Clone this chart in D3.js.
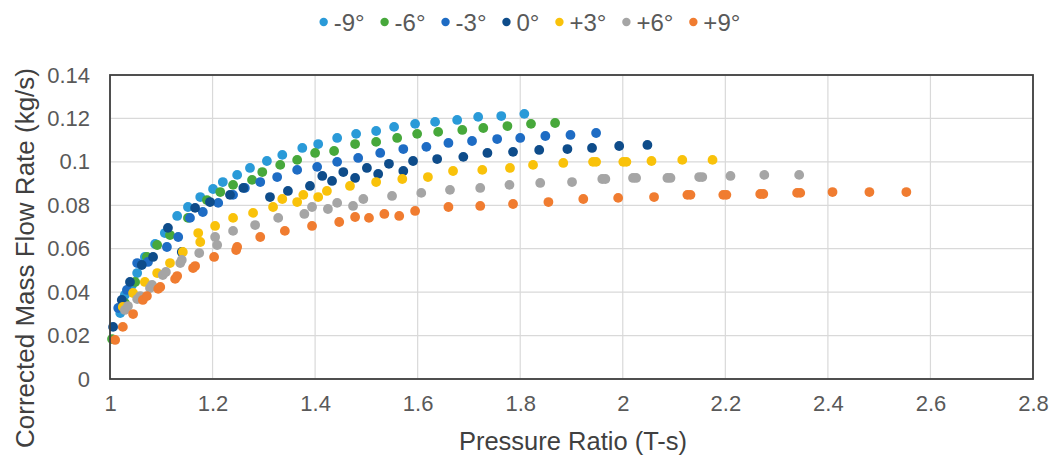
<!DOCTYPE html>
<html>
<head>
<meta charset="utf-8">
<script src="https://cdn.jsdelivr.net/npm/d3@7"></script>
<style>
  html, body { margin: 0; padding: 0; background: #fff; }
  svg { display: block; font-family: "Liberation Sans", Arial, sans-serif; }
</style>
</head>
<body>
<svg id="chart" width="1057" height="461"></svg>
<script>
// Inlet guide vane angle series: pressure ratio (T-s) vs corrected mass flow rate (kg/s)
const seriesNames = ["-9°", "-6°", "-3°", "0°", "+3°", "+6°", "+9°"];
const seriesColors = ["#2A9AD8", "#47A83B", "#1E6CC4", "#0E4C8A", "#F9C20A", "#A5A5A5", "#F07C30"];

const xM9 = [1.020,1.029,1.043,1.053,1.068,1.088,1.107,1.131,1.152,1.176,1.201,1.220,1.248,1.273,1.306,1.336,1.375,1.406,1.443,1.480,1.519,1.554,1.595,1.634,1.677,1.718,1.763,1.808];
const yM9 = [0.0304,0.0387,0.0433,0.0488,0.0562,0.0622,0.0672,0.0751,0.0792,0.0838,0.0875,0.0907,0.0940,0.0972,0.1004,0.1032,0.1064,0.1082,0.1110,0.1129,0.1142,0.1161,0.1175,0.1184,0.1193,0.1207,0.1211,0.1221];

const xM6 = [1.004,1.029,1.049,1.072,1.092,1.117,1.152,1.189,1.215,1.240,1.277,1.297,1.332,1.365,1.400,1.437,1.478,1.519,1.560,1.599,1.640,1.687,1.728,1.775,1.821,1.868];
const yM6 = [0.0184,0.0350,0.0447,0.0562,0.0617,0.0663,0.0742,0.0824,0.0861,0.0894,0.0917,0.0953,0.0986,0.1009,0.1041,0.1050,0.1082,0.1092,0.1110,0.1129,0.1138,0.1147,0.1156,0.1165,0.1175,0.1179];

const xM3 = [1.016,1.033,1.053,1.074,1.111,1.133,1.156,1.181,1.211,1.240,1.263,1.293,1.326,1.365,1.404,1.443,1.484,1.527,1.572,1.617,1.660,1.706,1.755,1.800,1.849,1.898,1.948];
const yM3 = [0.0327,0.0410,0.0534,0.0539,0.0608,0.0654,0.0742,0.0769,0.0811,0.0848,0.0880,0.0907,0.0930,0.0963,0.0977,0.1000,0.1018,0.1041,0.1059,0.1069,0.1087,0.1096,0.1105,0.1110,0.1119,0.1124,0.1133];

const x0 = [1.006,1.023,1.039,1.062,1.084,1.113,1.140,1.166,1.195,1.234,1.260,1.312,1.347,1.390,1.414,1.433,1.455,1.478,1.501,1.523,1.544,1.572,1.591,1.638,1.689,1.736,1.786,1.837,1.892,1.940,1.993,2.048];
const y0 = [0.0240,0.0364,0.0447,0.0525,0.0562,0.0696,0.0585,0.0788,0.0815,0.0848,0.0880,0.0838,0.0866,0.0889,0.0935,0.0912,0.0953,0.0926,0.0972,0.0944,0.0991,0.0958,0.1004,0.1013,0.1023,0.1041,0.1046,0.1055,0.1059,0.1064,0.1073,0.1078];

const xP3 = [1.025,1.045,1.068,1.092,1.117,1.142,1.172,1.176,1.205,1.240,1.279,1.318,1.336,1.365,1.377,1.406,1.423,1.468,1.519,1.570,1.620,1.669,1.726,1.780,1.825,1.884,1.942,1.948,2.001,2.007,2.056,2.116,2.175];
const yP3 = [0.0332,0.0396,0.0447,0.0488,0.0534,0.0585,0.0672,0.0631,0.0705,0.0742,0.0765,0.0792,0.0829,0.0815,0.0848,0.0838,0.0866,0.0889,0.0907,0.0921,0.0930,0.0958,0.0963,0.0972,0.0986,0.0995,0.1000,0.1000,0.1000,0.1000,0.1004,0.1009,0.1009];

const xP6 = [1.029,1.035,1.053,1.059,1.078,1.082,1.103,1.109,1.137,1.140,1.174,1.205,1.209,1.240,1.283,1.328,1.379,1.394,1.425,1.443,1.474,1.494,1.550,1.607,1.663,1.722,1.779,1.839,1.901,1.960,1.966,2.020,2.026,2.087,2.093,2.149,2.155,2.210,2.276,2.344];
const yP6 = [0.0318,0.0336,0.0368,0.0382,0.0419,0.0433,0.0479,0.0493,0.0534,0.0548,0.0580,0.0654,0.0617,0.0682,0.0709,0.0742,0.0760,0.0792,0.0783,0.0811,0.0797,0.0829,0.0843,0.0857,0.0871,0.0880,0.0894,0.0903,0.0907,0.0921,0.0921,0.0926,0.0926,0.0926,0.0926,0.0930,0.0930,0.0935,0.0940,0.0940];

const xP9 = [1.010,1.025,1.045,1.064,1.072,1.094,1.098,1.127,1.131,1.162,1.166,1.203,1.246,1.248,1.293,1.341,1.394,1.447,1.478,1.505,1.535,1.564,1.595,1.660,1.722,1.786,1.855,1.923,1.991,2.061,2.126,2.132,2.196,2.202,2.268,2.274,2.340,2.346,2.409,2.481,2.553];
const yP9 = [0.0180,0.0240,0.0299,0.0364,0.0382,0.0415,0.0424,0.0461,0.0474,0.0511,0.0520,0.0562,0.0594,0.0608,0.0654,0.0682,0.0705,0.0723,0.0746,0.0742,0.0760,0.0751,0.0774,0.0792,0.0797,0.0806,0.0815,0.0829,0.0834,0.0838,0.0848,0.0848,0.0848,0.0848,0.0852,0.0852,0.0857,0.0857,0.0861,0.0861,0.0861];

const xTicks = [1, 1.2, 1.4, 1.6, 1.8, 2, 2.2, 2.4, 2.6, 2.8];
const yTicks = [0, 0.02, 0.04, 0.06, 0.08, 0.1, 0.12, 0.14];
const xTitle = "Pressure Ratio (T-s)";
const yTitle = "Corrected Mass Flow Rate (kg/s)";

const seriesX = [xM9, xM6, xM3, x0, xP3, xP6, xP9];
const seriesY = [yM9, yM6, yM3, y0, yP3, yP6, yP9];

const svg = d3.select("#chart");
const plot = { left: 110, top: 75, right: 1033, bottom: 379 };

const x = d3.scaleLinear().domain([1, 2.8]).range([plot.left, plot.right]);
const y = d3.scaleLinear().domain([0, 0.14]).range([plot.bottom, plot.top]);

// gridlines
const grid = svg.append("g");
grid.selectAll("line.h").data(yTicks).join("line")
  .attr("x1", plot.left).attr("x2", plot.right)
  .attr("y1", d => y(d)).attr("y2", d => y(d))
  .attr("stroke", "#D9D9D9").attr("stroke-width", 1.2);
grid.selectAll("line.v").data(xTicks).join("line")
  .attr("y1", plot.top).attr("y2", plot.bottom)
  .attr("x1", d => x(d)).attr("x2", d => x(d))
  .attr("stroke", "#D9D9D9").attr("stroke-width", 1.2);

// axes (labels only; the frame is drawn separately)
const fmtX = d => d3.format("")(+d.toFixed(1));
const fmtY = d => d3.format("")(+d.toFixed(2));

const xAxis = svg.append("g")
  .attr("transform", `translate(0,${plot.bottom})`)
  .call(d3.axisBottom(x).tickValues(xTicks).tickFormat(fmtX).tickSize(0).tickPadding(16));
const yAxis = svg.append("g")
  .attr("transform", `translate(${plot.left},0)`)
  .call(d3.axisLeft(y).tickValues(yTicks).tickFormat(fmtY).tickSize(0).tickPadding(20));
[xAxis, yAxis].forEach(g => {
  g.select(".domain").remove();
  g.selectAll("text").attr("fill", "#595959").style("font-size", "22px")
    .style("font-family", "'Liberation Sans', Arial, sans-serif");
});

// data points
seriesNames.forEach((name, i) => {
  const pts = seriesX[i].map((v, j) => [v, seriesY[i][j]]);
  svg.append("g").selectAll("circle").data(pts).join("circle")
    .attr("cx", d => x(d[0])).attr("cy", d => y(d[1]))
    .attr("r", 4.9).attr("fill", seriesColors[i]);
});

// plot frame
svg.append("rect")
  .attr("x", plot.left).attr("y", plot.top)
  .attr("width", plot.right - plot.left).attr("height", plot.bottom - plot.top)
  .attr("fill", "none").attr("stroke", "#3F3F3F").attr("stroke-width", 1.8);

// axis titles
svg.append("text")
  .attr("x", 573).attr("y", 450)
  .attr("text-anchor", "middle").attr("fill", "#404040")
  .style("font-size", "25.5px").text(xTitle);
svg.append("text")
  .attr("transform", "translate(34,258) rotate(-90)")
  .attr("text-anchor", "middle").attr("fill", "#404040")
  .style("font-size", "26px").text(yTitle);

// legend
const legend = svg.append("g");
let cursor = 0;
seriesNames.forEach((name, i) => {
  const g = legend.append("g");
  g.append("circle").attr("cx", 0).attr("cy", 0).attr("r", 4.2).attr("fill", seriesColors[i]);
  const t = g.append("text").attr("x", 10).attr("y", 8.5)
    .attr("fill", "#595959").style("font-size", "24px").text(name);
  const w = 10 + t.node().getComputedTextLength();
  g.attr("transform", `translate(${cursor},22)`);
  cursor += w + 20;
});
const legendWidth = cursor - 20 + 4;
legend.attr("transform", `translate(${530 - legendWidth / 2 + 4},0)`);
</script>
</body>
</html>
